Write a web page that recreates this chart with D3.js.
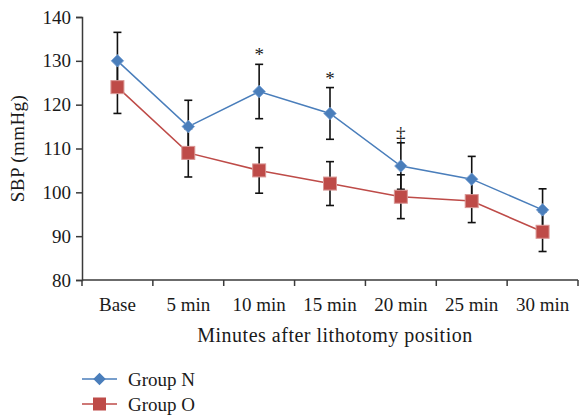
<!DOCTYPE html>
<html>
<head>
<meta charset="utf-8">
<script src="https://cdn.jsdelivr.net/npm/d3@7"></script>
<style>
  body { margin: 0; background: #fff; }
  text { font-family: "Liberation Serif", "DejaVu Serif", serif; fill: #1a1a1a; }
</style>
</head>
<body>
<div id="chart"></div>
<script>
// data
const categories = ["Base", "5 min", "10 min", "15 min", "20 min", "25 min", "30 min"];
const groupN = [130, 115, 123, 118, 106, 103, 96];
const groupNErr = [6.5, 6, 6.2, 5.9, 5.3, 5.2, 4.8];
const groupO = [124, 109, 105, 102, 99, 98, 91];
const groupOErr = [6, 5.5, 5.2, 5, 5, 4.9, 4.5];
const marks = ["", "", "*", "*", "‡", "", ""];
const yTicks = [80, 90, 100, 110, 120, 130, 140];

const width = 580, height = 417;
const margin = {top: 17, right: 2, bottom: 137, left: 82};

const svg = d3.select("#chart").append("svg")
    .attr("width", width)
    .attr("height", height);

const x = d3.scaleBand()
    .domain(categories)
    .range([margin.left, width - margin.right]);

const y = d3.scaleLinear()
    .domain([80, 140])
    .range([height - margin.bottom, margin.top]);

const cx = d => x(d) + x.bandwidth() / 2;

// axes
const yAxis = svg.append("g")
    .attr("transform", `translate(${margin.left},0)`)
    .call(d3.axisLeft(y).tickValues(yTicks).tickSize(6).tickPadding(5));

const xAxis = svg.append("g")
    .attr("transform", `translate(0,${y(80)})`)
    .call(d3.axisBottom(x).tickSize(0).tickPadding(18));

// category boundary ticks like excel
xAxis.selectAll(".bound")
    .data(categories.concat([null]))
    .enter().append("line")
    .attr("x1", (d, i) => margin.left + i * x.bandwidth())
    .attr("x2", (d, i) => margin.left + i * x.bandwidth())
    .attr("y1", 0).attr("y2", 6)
    .attr("stroke", "#3a3a3a").attr("stroke-width", 1.5);

[yAxis, xAxis].forEach(g => {
    g.select(".domain").attr("stroke", "#3a3a3a").attr("stroke-width", 1.5);
    g.selectAll(".tick line").attr("stroke", "#3a3a3a").attr("stroke-width", 1.5);
    g.selectAll("text").style("font-size", "19px").attr("fill", "#1a1a1a");
});
xAxis.selectAll(".domain").attr("d", `M${margin.left},0H${width - margin.right}`);

// axis titles
svg.append("text")
    .attr("transform", `translate(24,${(y(80) + y(140)) / 2}) rotate(-90)`)
    .attr("text-anchor", "middle")
    .style("font-size", "19px")
    .style("letter-spacing", "0.4px")
    .text("SBP (mmHg)");

svg.append("text")
    .attr("x", 335)
    .attr("y", 342)
    .attr("text-anchor", "middle")
    .style("font-size", "20px")
    .style("letter-spacing", "0.5px")
    .text("Minutes after lithotomy position");

// error bars
function errorBars(vals, errs) {
    const g = svg.append("g").attr("stroke", "#111").attr("stroke-width", 1.6);
    categories.forEach((c, i) => {
        const xc = cx(c);
        g.append("line").attr("x1", xc).attr("x2", xc)
            .attr("y1", y(vals[i] - errs[i])).attr("y2", y(vals[i] + errs[i]));
        [vals[i] - errs[i], vals[i] + errs[i]].forEach(v => {
            g.append("line").attr("x1", xc - 4).attr("x2", xc + 4)
                .attr("y1", y(v)).attr("y2", y(v));
        });
    });
}
errorBars(groupO, groupOErr);
errorBars(groupN, groupNErr);

const line = d3.line().x((d, i) => cx(categories[i])).y(d => y(d));

const blue = "#4a7ebb", red = "#be4b48";

svg.append("path").datum(groupO)
    .attr("d", line).attr("fill", "none")
    .attr("stroke", red).attr("stroke-width", 1.5);
svg.append("path").datum(groupN)
    .attr("d", line).attr("fill", "none")
    .attr("stroke", blue).attr("stroke-width", 1.5);

svg.selectAll(".sq").data(groupO).enter().append("rect")
    .attr("x", (d, i) => cx(categories[i]) - 6.5)
    .attr("y", d => y(d) - 6.5)
    .attr("width", 13).attr("height", 13)
    .attr("fill", red).attr("stroke", "#d99694").attr("stroke-width", 1);

const diamond = d3.symbol().type(d3.symbolDiamond2).size(100);
svg.selectAll(".dm").data(groupN).enter().append("path")
    .attr("d", diamond)
    .attr("transform", (d, i) => `translate(${cx(categories[i])},${y(d)})`)
    .attr("fill", blue).attr("stroke", "#7ba3d6").attr("stroke-width", 0.8);

// significance marks
svg.selectAll(".mark").data(marks).enter().append("text")
    .attr("x", (d, i) => cx(categories[i]))
    .attr("y", (d, i) => y(groupN[i] + groupNErr[i]) - 3)
    .attr("text-anchor", "middle")
    .style("fill", "#1a1a1a")
    .style("font-size", "19px")
    .text(d => d);

// legend
const legend = [{name: "Group N", color: blue, sym: "d"}, {name: "Group O", color: red, sym: "s"}];
const lg = svg.selectAll(".lg").data(legend).enter().append("g")
    .attr("transform", (d, i) => `translate(82,${379 + i * 25})`);
lg.append("line").attr("x1", 0).attr("x2", 35)
    .attr("stroke", d => d.color).attr("stroke-width", 1.5);
lg.each(function(d) {
    const g = d3.select(this);
    if (d.sym === "d") {
        g.append("path").attr("d", diamond).attr("transform", "translate(17.5,0)")
            .attr("fill", d.color);
    } else {
        g.append("rect").attr("x", 11).attr("y", -6.5).attr("width", 13).attr("height", 13)
            .attr("fill", d.color);
    }
});
lg.append("text").attr("x", 46).attr("dy", "0.35em")
    .style("font-size", "19px")
    .text(d => d.name);
</script>
</body>
</html>
